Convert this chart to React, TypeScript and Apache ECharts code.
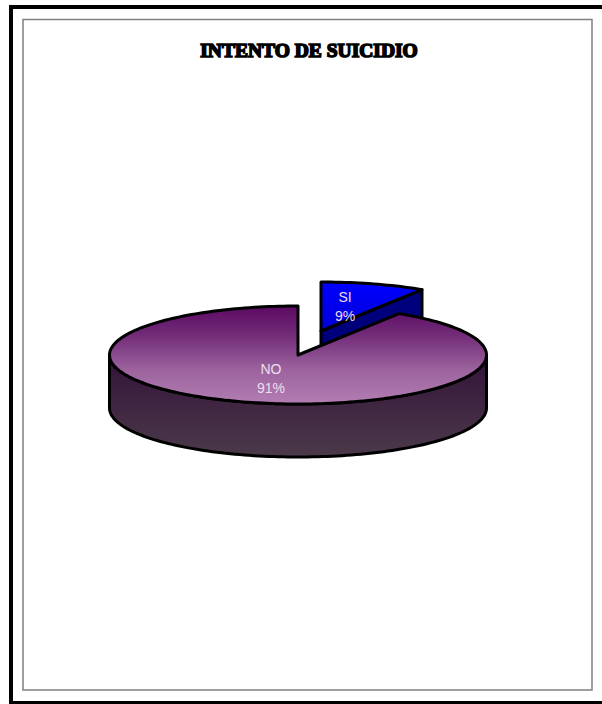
import React, { useEffect, useRef } from "react";
import * as echarts from "echarts";

const chartTitle = "INTENTO DE SUICIDIO";
const categories = ["SI", "NO"];
const shares = [9, 91];
const topStops = [
  [
    [0, "#0000ff"],
    [1, "#0000d8"],
  ],
  [
    [0, "#5c0a62"],
    [0.3, "#722c78"],
    [0.65, "#9c639e"],
    [1, "#b27eb2"],
  ],
];
const wallColors = ["#00007c", "#4a3848"];

const CENTER_X = 298;
const CENTER_Y = 355;
const RADIUS_X = 188.5;
const RADIUS_Y = 49;
const DEPTH = 53;
const EXPLODE = [
  [23, -24],
  [0, 0],
];
const LABEL_AT = [
  [345, 306],
  [271, 378],
];

const rim = (cx: number, cy: number, deg: number): number[] => {
  const t = (deg * Math.PI) / 180;
  return [cx + RADIUS_X * Math.sin(t), cy - RADIUS_Y * Math.cos(t)];
};

const arc = (cx: number, cy: number, from: number, to: number): number[][] => {
  const steps = Math.max(2, Math.ceil(Math.abs(to - from) / 1.5));
  const pts: number[][] = [];
  for (let i = 0; i <= steps; i++) pts.push(rim(cx, cy, from + ((to - from) * i) / steps));
  return pts;
};

const total = shares.reduce((a, b) => a + b, 0);

const renderSlice = (params: any, api: any) => {
  const i = params.dataIndex;
  const before = shares.slice(0, i).reduce((a, b) => a + b, 0);
  const from = (before / total) * 360;
  const to = ((before + api.value(0)) / total) * 360;
  const cx = CENTER_X + EXPLODE[i][0];
  const cy = CENTER_Y + EXPLODE[i][1];
  const outline = { stroke: "#000", lineWidth: 3, lineJoin: "round" };
  const children: any[] = [];

  // Cut face that turns toward the viewer, behind the top of the slice
  if (from < 90 && to < 90) {
    const p = rim(cx, cy, to);
    children.push({
      type: "polygon",
      shape: { points: [[cx, cy], p, [p[0], p[1] + DEPTH], [cx, cy + DEPTH]] },
      style: { fill: wallColors[i], ...outline },
    });
  }

  // Outer rim along the front half of the ellipse
  const frontFrom = Math.max(from, 90);
  const frontTo = Math.min(to, 270);
  if (frontTo > frontFrom) {
    const upper = arc(cx, cy, frontFrom, frontTo);
    const lower = arc(cx, cy + DEPTH, frontTo, frontFrom);
    children.push({
      type: "polygon",
      shape: { points: [...upper, ...lower] },
      style: {
        fill: new echarts.graphic.LinearGradient(0, 0, 0, 1, [
          { offset: 0, color: "#32123a" },
          { offset: 0.45, color: "#3e2440" },
          { offset: 1, color: "#4b3a4a" },
        ]),
        ...outline,
      },
    });
  }

  children.push({
    type: "polygon",
    shape: { points: [[cx, cy], ...arc(cx, cy, from, to)] },
    style: {
      fill: new echarts.graphic.LinearGradient(
        0,
        0,
        0,
        1,
        topStops[i].map(([offset, color]) => ({ offset, color }))
      ),
      ...outline,
    },
  });

  children.push({
    type: "text",
    x: LABEL_AT[i][0],
    y: LABEL_AT[i][1],
    style: {
      text: `${categories[i]}\n${Math.round((api.value(0) / total) * 100)}%`,
      fill: "#ecdfec",
      font: '14px "Liberation Sans"',
      lineHeight: 19,
      align: "center",
      verticalAlign: "middle",
    },
  });

  return { type: "group", children };
};

export default function App() {
  const ref = useRef<HTMLDivElement>(null);

  useEffect(() => {
    const chart = echarts.init(ref.current!, null, { renderer: "svg" });
    chart.setOption({
      animation: false,
      backgroundColor: "#fff",
      title: {
        text: chartTitle,
        left: 304,
        top: 35,
        textAlign: "center",
        textStyle: {
          fontFamily: '"Liberation Serif"',
          fontWeight: "bold",
          fontSize: 19.5,
          color: "#000",
          textBorderColor: "#000",
          textBorderWidth: 1.6,
        },
      },
      graphic: [
        {
          type: "rect",
          silent: true,
          shape: { x: 11, y: 7, width: 700, height: 696 },
          style: { fill: "none", stroke: "#000", lineWidth: 4 },
        },
        {
          type: "rect",
          silent: true,
          shape: { x: 23, y: 19.5, width: 569, height: 670.5 },
          style: { fill: "none", stroke: "#808080", lineWidth: 1.5 },
        },
      ],
      series: [
        {
          type: "custom",
          coordinateSystem: "none",
          renderItem: renderSlice,
          data: shares.map((v, i) => ({ name: categories[i], value: [v] })),
        },
      ],
    });
    return () => chart.dispose();
  }, []);

  return (
    <div
      ref={ref}
      style={{ position: "absolute", left: 0, top: 0, width: 602, height: 704 }}
    />
  );
}
